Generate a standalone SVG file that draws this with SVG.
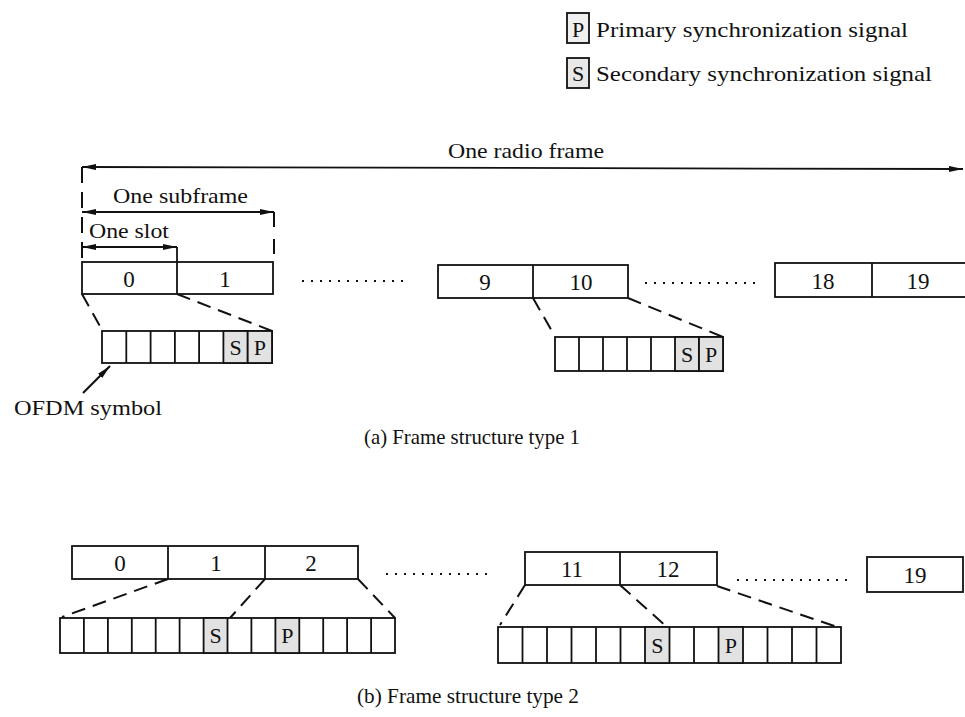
<svg xmlns="http://www.w3.org/2000/svg" width="965" height="717" viewBox="0 0 965 717">
<defs>
<marker id="ah" viewBox="0 0 14 6" refX="14" refY="3" markerWidth="14" markerHeight="6" markerUnits="userSpaceOnUse" orient="auto-start-reverse"><path d="M0,0 L14,3 L0,6 z" fill="#111"/></marker>
</defs>
<style>
text{font-family:"Liberation Serif","Times New Roman",serif;fill:#111;}
.t{font-size:22px}
.n{font-size:23px;text-anchor:middle}
.c{font-size:22px;text-anchor:middle}
.box{fill:#fff;stroke:#111;stroke-width:1.8}
.sh{fill:#e2e2e2;stroke:#111;stroke-width:1.8}
.dash{fill:none;stroke:#111;stroke-width:2;stroke-dasharray:14 8}
.dots{stroke:#111;stroke-width:2;stroke-dasharray:2 7}
.ln{stroke:#111;stroke-width:1.8;fill:none}
</style>
<rect width="965" height="717" fill="#fff"/>

<g id="legend">
<rect class="sh" x="567" y="13" width="22" height="30" style="fill:#f0f0f0"/>
<text class="c" x="578" y="37">P</text>
<text class="t" x="596" y="37" textLength="312" lengthAdjust="spacingAndGlyphs">Primary synchronization signal</text>
<rect class="sh" x="567" y="58" width="22" height="30" style="fill:#e8e8e8"/>
<text class="c" x="578" y="81">S</text>
<text class="t" x="596" y="81" textLength="336" lengthAdjust="spacingAndGlyphs">Secondary synchronization signal</text>
</g>

<g id="connectors">
<line class="ln" x1="82" y1="167" x2="963" y2="169" marker-start="url(#ah)" marker-end="url(#ah)"/>
<line class="ln" x1="82" y1="212" x2="274" y2="212" marker-start="url(#ah)" marker-end="url(#ah)"/>
<line class="ln" x1="82" y1="247" x2="177" y2="247" marker-start="url(#ah)" marker-end="url(#ah)"/>
<line class="dash" x1="82" y1="167" x2="82" y2="262" style="stroke-dasharray:16 9"/>
<line class="dash" x1="274" y1="212" x2="274" y2="262" style="stroke-dasharray:15 12"/>
<line class="ln" x1="177" y1="247" x2="177" y2="262"/>
<line class="dots" x1="302" y1="281" x2="410" y2="281"/>
<line class="dots" x1="645" y1="283" x2="760" y2="283"/>
<line class="dash" x1="82" y1="294" x2="101" y2="328"/>
<line class="dash" x1="177" y1="294" x2="272" y2="331"/>
<line class="dash" x1="533" y1="298" x2="553" y2="333"/>
<line class="dash" x1="628" y1="298" x2="723" y2="337"/>
<line class="ln" x1="83" y1="393" x2="110" y2="366" marker-end="url(#ah)" style="stroke-width:2.2"/>
<line class="dots" x1="386" y1="574" x2="490" y2="574"/>
<line class="dots" x1="737" y1="580" x2="848" y2="580"/>
<line class="dash" x1="168" y1="579" x2="62" y2="617"/>
<line class="dash" x1="265" y1="579" x2="230" y2="618"/>
<line class="dash" x1="358" y1="579" x2="395" y2="618"/>
<line class="dash" x1="525" y1="585" x2="500" y2="625"/>
<line class="dash" x1="620" y1="585" x2="667" y2="627"/>
<line class="dash" x1="717" y1="586" x2="840" y2="628"/>
</g>

<g id="labels-a">
<text class="t" x="448" y="158" textLength="156" lengthAdjust="spacingAndGlyphs">One radio frame</text>
<text class="t" x="113" y="203" textLength="135" lengthAdjust="spacingAndGlyphs">One subframe</text>
<text class="t" x="89" y="238" textLength="80" lengthAdjust="spacingAndGlyphs">One slot</text>
<text class="t" x="14" y="415" textLength="148" lengthAdjust="spacingAndGlyphs">OFDM symbol</text>
<text class="t" x="364" y="444" textLength="216" lengthAdjust="spacingAndGlyphs" style="font-size:21px">(a) Frame structure type 1</text>
</g>

<g id="slots-a1">
<rect class="box" x="82" y="262" width="191" height="32"/>
<line class="ln" x1="177" y1="262" x2="177" y2="294"/>
<text class="n" x="129" y="287">0</text>
<text class="n" x="225" y="287">1</text>
</g>
<g id="slots-a2">
<rect class="box" x="438" y="265" width="190" height="33"/>
<line class="ln" x1="533" y1="265" x2="533" y2="298"/>
<text class="n" x="485" y="290">9</text>
<text class="n" x="581" y="290">10</text>
</g>
<g id="slots-a3">
<rect class="box" x="775" y="263" width="200" height="34"/>
<line class="ln" x1="872" y1="263" x2="872" y2="297"/>
<text class="n" x="823" y="289">18</text>
<text class="n" x="918" y="289">19</text>
</g>

<g id="symbols-a1">
<rect class="box" x="102" y="331" width="170" height="32"/>
<line class="ln" x1="126.3" y1="331" x2="126.3" y2="363"/>
<line class="ln" x1="150.6" y1="331" x2="150.6" y2="363"/>
<line class="ln" x1="174.9" y1="331" x2="174.9" y2="363"/>
<line class="ln" x1="199.1" y1="331" x2="199.1" y2="363"/>
<rect class="sh" x="223.4" y="331" width="24.3" height="32"/>
<rect class="sh" x="247.7" y="331" width="24.3" height="32"/>
<text class="c" x="235.6" y="355">S</text>
<text class="c" x="259.9" y="355">P</text>
</g>
<g id="symbols-a2">
<rect class="box" x="555" y="337" width="168" height="34"/>
<line class="ln" x1="579" y1="337" x2="579" y2="371"/>
<line class="ln" x1="603" y1="337" x2="603" y2="371"/>
<line class="ln" x1="627" y1="337" x2="627" y2="371"/>
<line class="ln" x1="651" y1="337" x2="651" y2="371"/>
<rect class="sh" x="675" y="337" width="24" height="34"/>
<rect class="sh" x="699" y="337" width="24" height="34"/>
<text class="c" x="687" y="362">S</text>
<text class="c" x="711" y="362">P</text>
</g>

<g id="slots-b1">
<rect class="box" x="72" y="546" width="286" height="33"/>
<line class="ln" x1="168" y1="546" x2="168" y2="579"/>
<line class="ln" x1="265" y1="546" x2="265" y2="579"/>
<text class="n" x="120" y="571">0</text>
<text class="n" x="216" y="571">1</text>
<text class="n" x="311" y="571">2</text>
</g>
<g id="slots-b2">
<rect class="box" x="525" y="552" width="192" height="33"/>
<line class="ln" x1="620" y1="552" x2="620" y2="585"/>
<text class="n" x="572" y="577">11</text>
<text class="n" x="668" y="577">12</text>
</g>
<g id="slots-b3">
<rect class="box" x="867" y="557" width="96" height="35"/>
<text class="n" x="915" y="583">19</text>
</g>

<g id="symbols-b1">
<rect class="box" x="60" y="618" width="335" height="35"/>
<rect class="sh" x="203.6" y="618" width="23.9" height="35"/>
<rect class="sh" x="275.4" y="618" width="23.9" height="35"/>
<g class="ln">
<line x1="83.9" y1="618" x2="83.9" y2="653"/>
<line x1="107.9" y1="618" x2="107.9" y2="653"/>
<line x1="131.8" y1="618" x2="131.8" y2="653"/>
<line x1="155.7" y1="618" x2="155.7" y2="653"/>
<line x1="179.6" y1="618" x2="179.6" y2="653"/>
<line x1="251.4" y1="618" x2="251.4" y2="653"/>
<line x1="323.2" y1="618" x2="323.2" y2="653"/>
<line x1="347.1" y1="618" x2="347.1" y2="653"/>
<line x1="371.1" y1="618" x2="371.1" y2="653"/>
</g>
<text class="c" x="215.5" y="643">S</text>
<text class="c" x="287.4" y="643">P</text>
</g>
<g id="symbols-b2">
<rect class="box" x="498" y="627" width="343" height="36"/>
<rect class="sh" x="645" y="627" width="24.5" height="36"/>
<rect class="sh" x="718.5" y="627" width="24.5" height="36"/>
<g class="ln">
<line x1="522.5" y1="627" x2="522.5" y2="663"/>
<line x1="547" y1="627" x2="547" y2="663"/>
<line x1="571.5" y1="627" x2="571.5" y2="663"/>
<line x1="596" y1="627" x2="596" y2="663"/>
<line x1="620.5" y1="627" x2="620.5" y2="663"/>
<line x1="694" y1="627" x2="694" y2="663"/>
<line x1="767.5" y1="627" x2="767.5" y2="663"/>
<line x1="792" y1="627" x2="792" y2="663"/>
<line x1="816.5" y1="627" x2="816.5" y2="663"/>
</g>
<text class="c" x="657.3" y="653">S</text>
<text class="c" x="730.8" y="653">P</text>
</g>

<g id="labels-b">
<text class="t" x="357" y="703" textLength="222" lengthAdjust="spacingAndGlyphs" style="font-size:21px">(b) Frame structure type 2</text>
</g>
</svg>
